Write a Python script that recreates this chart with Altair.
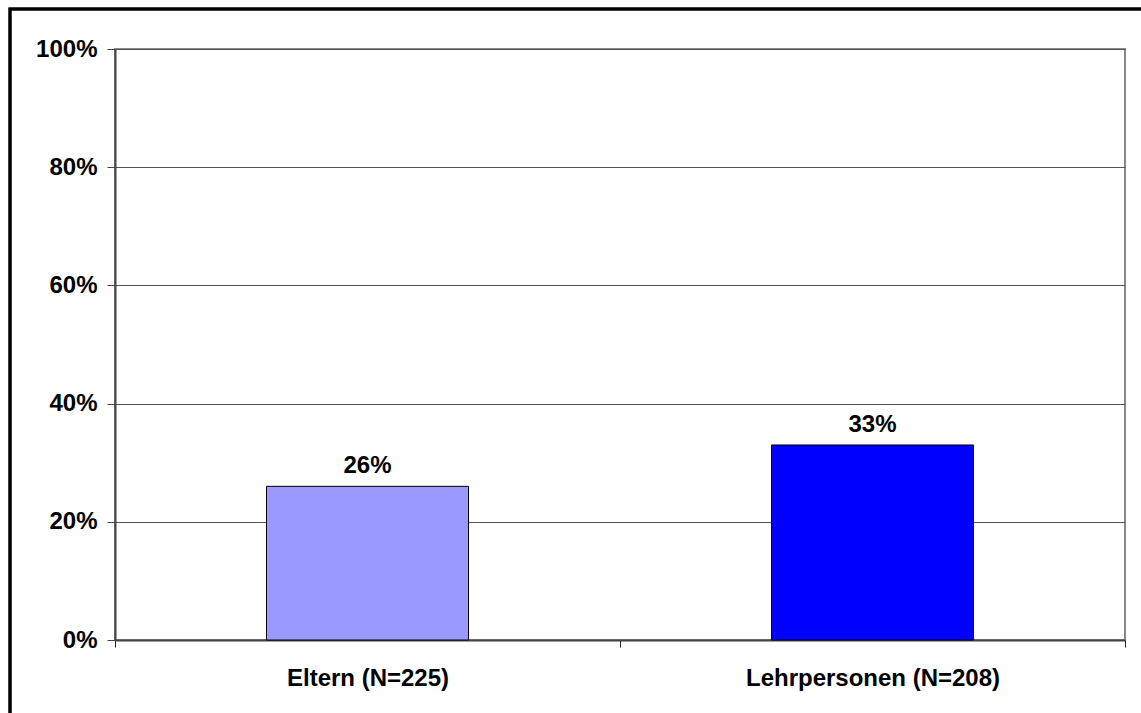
import altair as alt
import pandas as pd

# Survey groups and the share of each group
groups = ["Eltern (N=225)", "Lehrpersonen (N=208)"]
shares = [0.26, 0.33]
colors = ["#9999FF", "#0000FF"]

df = pd.DataFrame({"group": groups, "share": shares, "color": colors})

FONT = "Liberation Sans"
SIZE = 24

x_enc = alt.X(
    "group:N",
    sort=groups,
    title=None,
    scale=alt.Scale(paddingInner=0, paddingOuter=0),
    axis=alt.Axis(
        labelAngle=0,
        labelFont=FONT,
        labelFontSize=SIZE,
        labelFontWeight="bold",
        labelColor="black",
        labelLimit=0,
        labelPadding=19,
        tickBand="extent",
        tickSize=7,
        tickColor="#222222",
        domainColor="#444444",
        domainWidth=2,
    ),
)
y_enc = alt.Y(
    "share:Q",
    title=None,
    scale=alt.Scale(domain=[0, 1], nice=False),
    axis=alt.Axis(
        values=[0, 0.2, 0.4, 0.6, 0.8, 1.0],
        format=".0%",
        labelFont=FONT,
        labelFontSize=SIZE,
        labelFontWeight="bold",
        labelColor="black",
        labelPadding=10,
        tickSize=8,
        tickColor="#444444",
        domainColor="#444444",
        domainWidth=2,
        grid=True,
        gridColor="#555555",
        gridWidth=1,
    ),
)

bars = alt.Chart(df).mark_bar(
    stroke="black", strokeWidth=1, width=alt.RelativeBandSize(0.4)
).encode(
    x=x_enc,
    y=y_enc,
    color=alt.Color("color:N", scale=None),
)

labels = alt.Chart(df).mark_text(
    font=FONT, fontSize=SIZE, fontWeight="bold", baseline="bottom", dy=-8, color="black"
).encode(
    x=alt.X("group:N", sort=groups),
    y="share:Q",
    text=alt.Text("share:Q", format=".0%"),
)

# Outer frame around the whole figure
frame = alt.Chart(df).mark_rect(
    fill=None, stroke="black", strokeWidth=3, clip=False
).encode(
    x=alt.value(-105),
    x2=alt.value(1040),
    y=alt.value(-40),
    y2=alt.value(700),
)

chart = (
    alt.layer(frame, bars, labels)
    .properties(
        width=1010,
        height=591,
        autosize=alt.AutoSizeParams(type="none"),
        padding={"left": 115, "top": 49, "right": 16, "bottom": 73},
        background="white",
    )
    .configure_view(stroke="#888888", strokeWidth=2)
)

chart.save("out.html", embed_options={"renderer": "svg", "actions": False})
